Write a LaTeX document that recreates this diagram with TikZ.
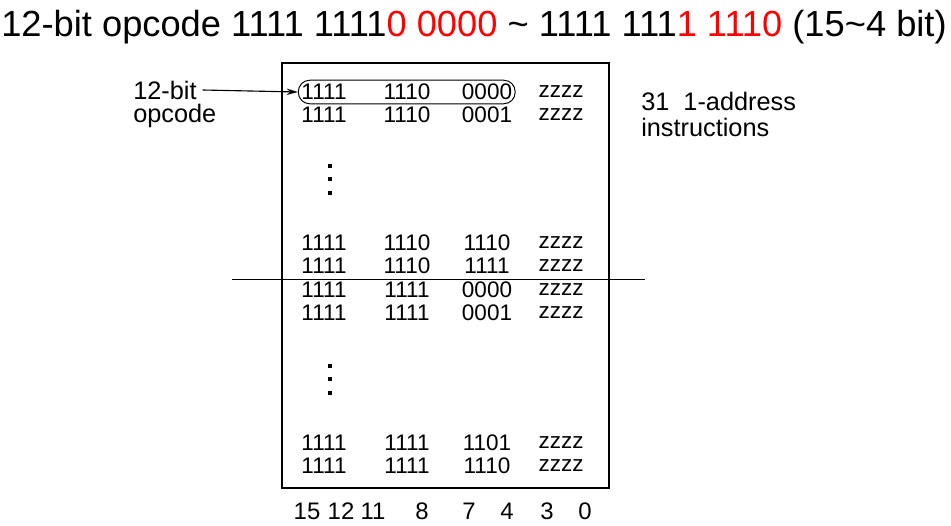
\documentclass[tikz,border=0pt]{standalone}
\usepackage{fontspec}
\setmainfont{Liberation Sans}
\usepackage{tikz}
\usepackage{xcolor}
\usetikzlibrary{fit,arrows.meta}

\begin{document}
\begin{tikzpicture}[x=0.025cm,y=-0.025cm,every node/.style={inner sep=0pt},
  code/.style={font=\fontsize{16}{18}\selectfont},
  side/.style={font=\fontsize{18}{21}\selectfont,anchor=west},
  bits/.style={font=\fontsize{17}{19}\selectfont}]
\useasboundingbox (0,0) rectangle (951,525);
% title
\node (title) at (474,27) {\fontsize{25.8}{29}\selectfont 12-bit opcode 1111 1111\textcolor{red}{0 0000} \textasciitilde{} 1111 111\textcolor{red}{1 1110} (15\textasciitilde 4 bit)};
% box and divider
\draw[line width=1.4pt] (282,63) rectangle (609,488);
\draw[line width=0.7pt] (232,279) -- (645,279);
% rows
\node[code] (r1a) at (324,92) {1111};
\node[code] (r1b) at (407,92) {1110};
\node[code] (r1c) at (487,92) {0000};
\node[code] (r1d) at (561,92) {zzzz};
\node[code] (r2a) at (324,115) {1111};
\node[code] (r2b) at (407,115) {1110};
\node[code] (r2c) at (487,115) {0001};
\node[code] (r2d) at (561,115) {zzzz};
\node[code] (r3a) at (324,243) {1111};
\node[code] (r3b) at (407,243) {1110};
\node[code] (r3c) at (487,243) {1110};
\node[code] (r3d) at (561,243) {zzzz};
\node[code] (r4a) at (324,266) {1111};
\node[code] (r4b) at (407,266) {1110};
\node[code] (r4c) at (487,266) {1111};
\node[code] (r4d) at (561,266) {zzzz};
\node[code] (r5a) at (324,290) {1111};
\node[code] (r5b) at (407,290) {1111};
\node[code] (r5c) at (487,290) {0000};
\node[code] (r5d) at (561,290) {zzzz};
\node[code] (r6a) at (324,313) {1111};
\node[code] (r6b) at (407,313) {1111};
\node[code] (r6c) at (487,313) {0001};
\node[code] (r6d) at (561,313) {zzzz};
\node[code] (r7a) at (324,443) {1111};
\node[code] (r7b) at (407,443) {1111};
\node[code] (r7c) at (487,443) {1101};
\node[code] (r7d) at (561,443) {zzzz};
\node[code] (r8a) at (324,466) {1111};
\node[code] (r8b) at (407,466) {1111};
\node[code] (r8c) at (487,466) {1110};
\node[code] (r8d) at (561,466) {zzzz};
% vertical dots
\fill (327.5,164) rectangle (331.5,168);
\fill (327.5,177) rectangle (331.5,181);
\fill (327.5,191) rectangle (331.5,195);
\fill (327.5,364) rectangle (331.5,368);
\fill (327.5,377) rectangle (331.5,381);
\fill (327.5,391) rectangle (331.5,395);
% opcode outline and labels
\node[draw,line width=0.7pt,rounded corners=8pt,fit=(r1a)(r1c),inner xsep=2pt,inner ysep=2.5pt] (opc) {};
\node[side] (lbit) at (133,90) {12-bit};
\node[side] (lop) at (133,116) {opcode};
\draw[line width=0.8pt,-{Stealth[length=8pt,width=4.5pt]}] ([xshift=4pt]lbit.east) -- (opc.west);
\node[side] (linst) at (641,101) {31\ \ 1-address};
\node[side] (linst2) at (641,127) {instructions};
% bit numbers
\node[bits] (b15) at (307,511) {15};
\node[bits] (b12) at (341,511) {12};
\node[bits] (b11) at (373,511) {11};
\node[bits] (b8) at (422,511) {8};
\node[bits] (b7) at (469,511) {7};
\node[bits] (b4) at (507,511) {4};
\node[bits] (b3) at (547,511) {3};
\node[bits] (b0) at (585,511) {0};
\end{tikzpicture}
\end{document}
